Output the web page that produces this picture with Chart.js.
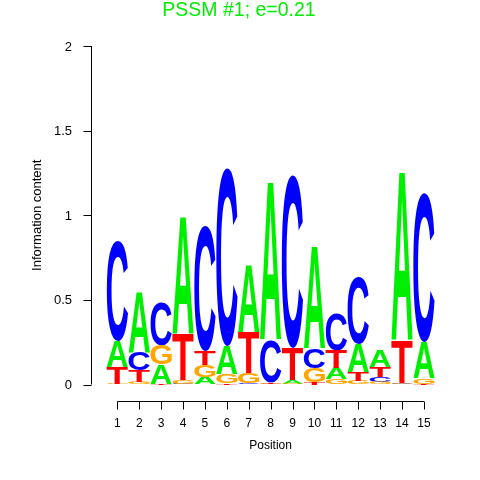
<!DOCTYPE html>
<html>
<head>
<meta charset="utf-8">
<script src="https://cdn.jsdelivr.net/npm/chart.js@4.4.1/dist/chart.umd.min.js"></script>
<style>
  html, body { margin: 0; padding: 0; background: #fff; }
</style>
</head>
<body>
<canvas id="logo" width="480" height="480"></canvas>
<script>
// information content (bits) per letter, positions 1..15
const positions = [1, 2, 3, 4, 5, 6, 7, 8, 9, 10, 11, 12, 13, 14, 15];
const bitsA = [0.15, 0.36, 0.112, 0.69, 0.045, 0.165, 0.395, 0.93, 0.02, 0.605, 0.065, 0.17, 0.10, 0.99, 0.215];
const bitsC = [0.59, 0.105, 0.26, 0.005, 0.74, 1.05, 0.008, 0.25, 1.02, 0.115, 0.22, 0.40, 0.03, 0.005, 0.88];
const bitsG = [0.005, 0.015, 0.115, 0.02, 0.07, 0.05, 0.06, 0.005, 0.005, 0.083, 0.03, 0.02, 0.012, 0.005, 0.03];
const bitsT = [0.10, 0.07, 0.005, 0.27, 0.085, 0.01, 0.24, 0.005, 0.19, 0.015, 0.105, 0.05, 0.06, 0.25, 0.004];
const yTicks = [0, 0.5, 1, 1.5, 2];
const xTicks = positions;

const letters = ['A', 'C', 'G', 'T'];
const bits = {A: bitsA, C: bitsC, G: bitsG, T: bitsT};
const letterColors = {A: '#00ee00', C: '#0000ff', G: '#ffa500', T: '#ff0000'};

// stack letters at each position, smallest at the bottom
const ranges = {A: [], C: [], G: [], T: []};
positions.forEach(function(p, j) {
  var order = letters.slice().sort(function(a, b) { return bits[a][j] - bits[b][j]; });
  var base = 0;
  order.forEach(function(L) {
    ranges[L].push({x: p, y: [base, base + bits[L][j]]});
    base += bits[L][j];
  });
});

const font = "'Liberation Sans', Arial, Helvetica, sans-serif";

const logoLetters = {
  id: 'logoLetters',
  afterDatasetsDraw: function(chart) {
    const ctx = chart.ctx;
    chart.data.datasets.forEach(function(ds, i) {
      const meta = chart.getDatasetMeta(i);
      ctx.save();
      ctx.font = 'bold 200px ' + font;
      ctx.textAlign = 'left';
      ctx.textBaseline = 'alphabetic';
      const m = ctx.measureText(ds.label);
      const gl = m.actualBoundingBoxLeft, ga = m.actualBoundingBoxAscent;
      const gw = gl + m.actualBoundingBoxRight;
      const gh = ga + m.actualBoundingBoxDescent;
      ctx.fillStyle = letterColors[ds.label];
      meta.data.forEach(function(bar) {
        const p = bar.getProps(['x', 'y', 'base', 'width'], true);
        const top = Math.min(p.y, p.base);
        const h = Math.abs(p.base - p.y);
        if (h < 0.3) return;
        ctx.save();
        ctx.translate(p.x - p.width / 2, top);
        ctx.scale(p.width / gw, h / gh);
        ctx.fillText(ds.label, gl, ga);
        ctx.restore();
      });
      ctx.restore();
    });
  }
};

// R style axes, title and axis titles
const rAxes = {
  id: 'rAxes',
  afterDraw: function(chart) {
    const ctx = chart.ctx;
    const xs = chart.scales.x, ys = chart.scales.y;
    ctx.save();
    ctx.strokeStyle = '#000';
    ctx.lineWidth = 1;
    ctx.fillStyle = '#000';

    // y axis
    const ax = Math.round(chart.chartArea.left) + 0.5;
    ctx.beginPath();
    ctx.moveTo(ax, ys.getPixelForValue(yTicks[0]));
    ctx.lineTo(ax, ys.getPixelForValue(yTicks[yTicks.length - 1]));
    yTicks.forEach(function(t) {
      const y = Math.round(ys.getPixelForValue(t)) + 0.5;
      ctx.moveTo(ax, y);
      ctx.lineTo(ax - 8, y);
    });
    ctx.stroke();
    ctx.font = '13px ' + font;
    ctx.textAlign = 'right';
    ctx.textBaseline = 'middle';
    yTicks.forEach(function(t) {
      ctx.fillText(String(t), 72, ys.getPixelForValue(t) + 1);
    });

    // x axis
    const ay = 401.5;
    ctx.beginPath();
    ctx.moveTo(xs.getPixelForValue(xTicks[0]), ay);
    ctx.lineTo(xs.getPixelForValue(xTicks[xTicks.length - 1]), ay);
    xTicks.forEach(function(t) {
      const x = Math.round(xs.getPixelForValue(t)) + 0.5;
      ctx.moveTo(x, ay);
      ctx.lineTo(x, ay + 8);
    });
    ctx.stroke();
    ctx.font = '12px ' + font;
    ctx.textAlign = 'center';
    xTicks.forEach(function(t) {
      ctx.fillText(String(t), xs.getPixelForValue(t), 424);
    });

    // axis titles
    ctx.font = '12px ' + font;
    ctx.fillText('Position', xs.getPixelForValue(8), 446);
    ctx.save();
    ctx.translate(37.5, ys.getPixelForValue(1));
    ctx.rotate(-Math.PI / 2);
    ctx.font = '13px ' + font;
    ctx.fillText('Information content', 0, 0);
    ctx.restore();

    // main title
    ctx.fillStyle = '#00ee00';
    ctx.font = '19.5px ' + font;
    ctx.textBaseline = 'alphabetic';
    ctx.fillText('PSSM #1; e=0.21', 239, 15.5);
    ctx.restore();
  }
};

const config = {
  type: 'bar',
  data: {
    datasets: letters.map(function(L) {
      return {
        label: L,
        data: ranges[L],
        grouped: false,
        backgroundColor: 'rgba(0,0,0,0)',
        borderWidth: 0,
        barPercentage: 0.97,
        categoryPercentage: 1
      };
    })
  },
  options: {
    responsive: false,
    animation: false,
    layout: {padding: {left: 90.6, right: 34.2, top: 46, bottom: 95.5}},
    plugins: {
      legend: {display: false},
      tooltip: {enabled: false}
    },
    scales: {
      x: {type: 'linear', min: -0.22, max: 16, offset: false, display: false},
      y: {min: 0, max: 2, display: false}
    }
  },
  plugins: [logoLetters, rAxes]
};

var myChart = new Chart(document.getElementById('logo'), config);
</script>
</body>
</html>
